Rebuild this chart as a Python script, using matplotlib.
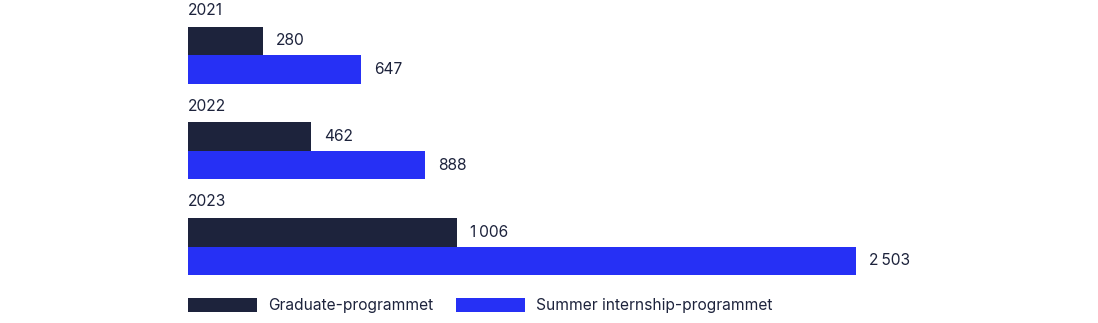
import matplotlib
matplotlib.use("Agg")
import matplotlib.pyplot as plt

years = ["2021", "2022", "2023"]
graduate = [280, 462, 1006]
summer = [647, 888, 2503]
series_names = ["Graduate-programmet", "Summer internship-programmet"]

dark = "#1d233c"
blue = "#2630f5"
text_color = "#1d233c"

plt.rcParams["font.family"] = ["Inter", "DejaVu Sans"]

W, H = 1098, 323
fig = plt.figure(figsize=(W / 100, H / 100), dpi=100)
ax = fig.add_axes([188 / W, 0, (W - 188) / W, 1])

bar_h = 0.298
ax.set_xlim(0, (W - 188) / 0.2669)
ax.set_ylim((H - 41) / 95.7, -41 / 95.7)

def fmt(v):
    return f"{v:,}".replace(",", "\u2009")

for i, year in enumerate(years):
    ax.text(0, i - 0.32, year, ha="left", va="center", fontsize=11.2, color=text_color)

b1 = ax.barh([i for i in range(len(years))], graduate, height=bar_h,
             align="center", color=dark, label=series_names[0])
b2 = ax.barh([i + bar_h for i in range(len(years))], summer, height=bar_h,
             align="center", color=blue, label=series_names[1])

for bars, vals in [(b1, graduate), (b2, summer)]:
    for rect, v in zip(bars, vals):
        ax.annotate(fmt(v), (rect.get_width(), rect.get_y() + rect.get_height() / 2),
                    xytext=(9.5, 0), textcoords="offset points",
                    ha="left", va="center", fontsize=11.2, color=text_color)

ax.axis("off")

leg = fig.legend(handles=[b1, b2], loc="center left",
                 bbox_to_anchor=(188 / W, 17.5 / H), bbox_transform=fig.transFigure,
                 ncol=2, frameon=False, fontsize=11.2, borderpad=0, borderaxespad=0,
                 handlelength=4.45, handleheight=0.97, handletextpad=0.7,
                 columnspacing=1.45)
for t in leg.get_texts():
    t.set_color(text_color)

fig.savefig("out.png", dpi=100)
